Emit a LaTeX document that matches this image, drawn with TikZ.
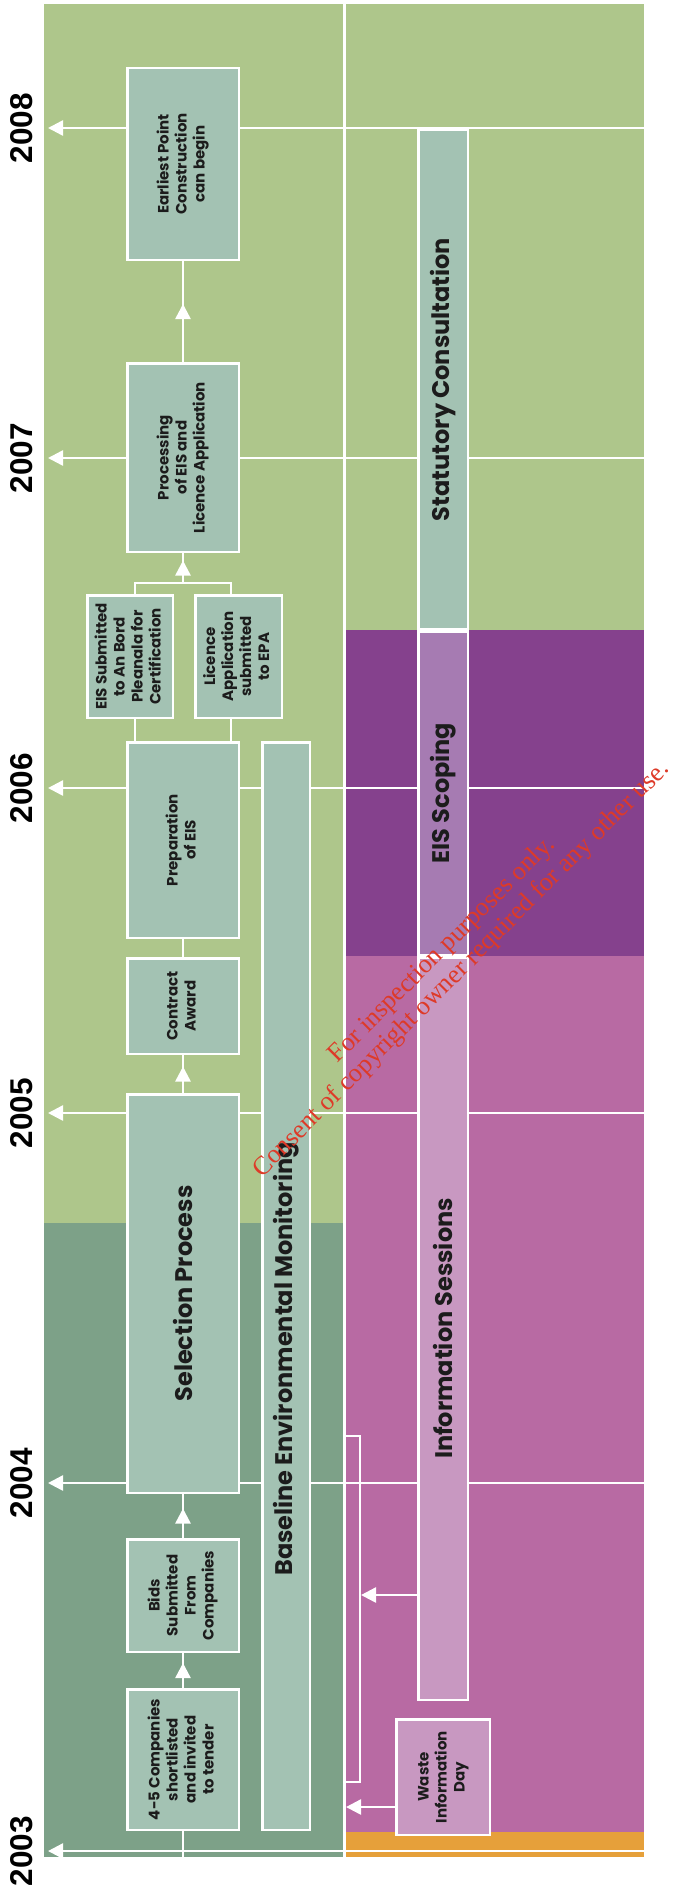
\documentclass[tikz,border=0pt]{standalone}
\usepackage{fontspec}
\setsansfont{Poppins}
\newfontfamily\yearfont{Liberation Sans}
\newfontfamily\stampfont{Liberation Serif}
\usepackage{xcolor}
\usepackage{tikz}
\usetikzlibrary{arrows.meta,calc}

\definecolor{meadow}{RGB}{174,198,139}
\definecolor{moss}{RGB}{125,161,136}
\definecolor{sage}{RGB}{163,194,179}
\definecolor{orchid}{RGB}{184,106,163}
\definecolor{plum}{RGB}{133,65,141}
\definecolor{lilac}{RGB}{200,152,193}
\definecolor{mauve}{RGB}{166,123,178}
\definecolor{amber}{RGB}{230,160,58}
\definecolor{stampred}{RGB}{222,58,40}
\definecolor{ink}{RGB}{28,28,28}

\newcommand{\vlabel}[1]{\rotatebox{90}{\begin{tabular}{@{}c@{}}#1\end{tabular}}}

\begin{document}
\begin{tikzpicture}[
    x=1pt,y=-1pt,
    >={Triangle[length=15pt,width=15pt]},
    stage/.style={draw=white,line width=2.5pt,fill=sage,inner sep=0pt,
      text=ink,font=\sffamily\bfseries\fontsize{15}{18}\selectfont},
    bigtext/.style={text=ink,font=\sffamily\bfseries\fontsize{24}{28}\selectfont},
    link/.style={white,line width=2.5pt},
    yearlabel/.style={font=\yearfont\bfseries\fontsize{31.5}{32}\selectfont,
      rotate=90,text=black},
    stamp/.style={font=\stampfont\fontsize{26.2}{27.5}\selectfont,text=stampred,
      rotate=45,align=center}
  ]
    \useasboundingbox (0,0) rectangle (674,1892);
    \fill[white] (0,0) rectangle (674,1892);

    % coloured bands: left column is the contract track, right column consultation
    \fill[meadow] (44,4) rectangle (644,1857);
    \fill[moss] (44,1223) rectangle (344,1857);
    \fill[plum] (344,630) rectangle (644,956);
    \fill[orchid] (344,956) rectangle (644,1832);
    \fill[amber] (344,1832) rectangle (644,1857);
    \coordinate (div) at (344,4);
    \coordinate (divbot) at (344,1857);
    \draw[link,line width=3pt] (div) -- (divbot);

    \foreach \yr/\yy in {2008/128,2007/458,2006/788,2005/1113,2004/1483,2003/1851}{
      \coordinate (edge\yr) at (644,\yy);
      \coordinate (tip\yr) at (48,\yy);
      \draw[link,->] (edge\yr) -- (tip\yr);
      \node[yearlabel] (year\yr) at (21.5,\yy) {\yr};
    }

    \node[stage,minimum width=111.5pt,minimum height=140.5pt] (s45) at (183,1759.5)
      {\vlabel{4-5 Companies\\shortlisted\\and invited\\to tender}};
    \node[stage,minimum width=111.5pt,minimum height=112.5pt] (bids) at (183,1595.5)
      {\vlabel{Bids\\Submitted\\From\\Companies}};
    \node[stage,bigtext,minimum width=111.5pt,minimum height=398.5pt] (select) at (183,1293.5)
      {\rotatebox{90}{Selection Process}};
    \node[stage,minimum width=111.5pt,minimum height=95.5pt] (contract) at (183,1006)
      {\vlabel{Contract\\Award}};
    \node[stage,minimum width=111.5pt,minimum height=195.5pt] (prep) at (183,840)
      {\vlabel{Preparation\\of EIS}};
    \node[stage,minimum width=85.5pt,minimum height=122.5pt] (eisub) at (130,656.5)
      {\vlabel{EIS Submitted\\to An Bord\\Pleanala for\\Certification}};
    \node[stage,minimum width=86.5pt,minimum height=122.5pt] (licence) at (238.5,656.5)
      {\vlabel{Licence\\Application\\submitted\\to EPA}};
    \node[stage,minimum width=111.5pt,minimum height=188.5pt] (procs) at (183,457.5)
      {\vlabel{Processing\\of EIS and\\Licence Application}};
    \node[stage,minimum width=111.5pt,minimum height=191.5pt] (earliest) at (183,164)
      {\vlabel{Earliest Point\\Construction\\can begin}};

    \node[stage,minimum width=47.5pt,minimum height=1087.5pt] (baseline) at (286,1286) {};
    \node[bigtext,rotate=90] (baselinetext) at (286,1359)
      {Baseline Environmental Monitoring};

    \node[stage,bigtext,minimum width=49.5pt,minimum height=498.5pt] (statutory) at (443,379.5)
      {\rotatebox{90}{Statutory Consultation}};
    \node[stage,bigtext,fill=mauve,minimum width=49.5pt,minimum height=323.5pt] (scoping) at (443,793)
      {\rotatebox{90}{EIS Scoping}};
    \node[stage,bigtext,fill=lilac,minimum width=49.5pt,minimum height=742.5pt] (infosess) at (443,1328.5)
      {\rotatebox{90}{Information Sessions}};
    \node[stage,fill=lilac,minimum width=93.5pt,minimum height=115.5pt] (waste) at (443,1777)
      {\vlabel{Waste\\Information\\Day}};

    % flow up the contract column, arrow heads sit half way
    \coordinate (colbot) at (183,1857);
    \draw[link] (colbot) -- (s45.south);
    \foreach \a/\b in {s45/bids,bids/select,select/contract,contract/prep,procs/earliest}
      \draw[link] (\a.north) -- (\b.south);
    \foreach \a/\b in {s45/bids,bids/select,select/contract,procs/earliest}
      \draw[link,->] (\a.north) -- ($(\a.north)!.5!(\b.south)+(0,-7.5)$);

    \coordinate (forkL) at (135,583);
    \coordinate (forkR) at (231,583);
    \coordinate (forkM) at (183,583);
    \draw[link] (prep.north -| forkL) -- (eisub.south -| forkL);
    \draw[link] (prep.north -| forkR) -- (licence.south -| forkR);
    \draw[link] (eisub.north -| forkL) -- (forkL) -- (forkR) -- (licence.north -| forkR);
    \draw[link] (forkM) -- (procs.south);
    \draw[link,->] (forkM) -- ($(forkM)!.5!(procs.south)+(0,-7.5)$);

    % consultation events pointing back to the timeline
    \coordinate (brtop) at (360,1436);
    \coordinate (brbot) at (360,1782);
    \draw[link] (brtop -| div) -- (brtop) -- (brbot) -- (brbot -| div);
    \coordinate (infotip) at (361,1595);
    \draw[link,->] (infosess.west |- infotip) -- (infotip);
    \coordinate (wastetip) at (346,1807);
    \draw[link,->] (waste.west |- wastetip) -- (wastetip);

    \node[stamp] (notice) at (452,960)
      {For inspection purposes only.\\Consent of copyright owner required for any other use.};
  \end{tikzpicture}
\end{document}
